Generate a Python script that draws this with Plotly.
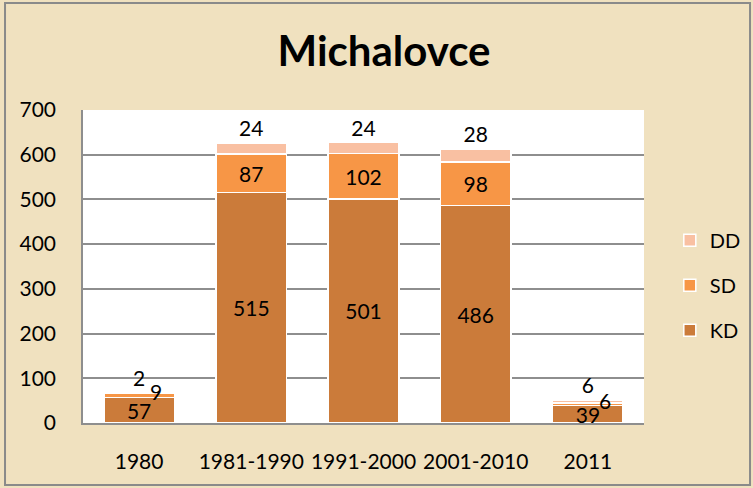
import plotly.graph_objects as go

categories = ["1980", "1981-1990", "1991-2000", "2001-2010", "2011"]
kd = [57, 515, 501, 486, 39]
sd = [9, 87, 102, 98, 6]
dd = [2, 24, 24, 28, 6]
y_ticks = [0, 100, 200, 300, 400, 500, 600, 700]

FONT = "Lato"
BG = "#F0E1BF"
C_KD = "#CB7B3A"
C_SD = "#F79646"
C_DD = "#F9C0A2"
SMALL = 20  # segments below this get a shifted label

fig = go.Figure()

fig.add_trace(go.Bar(
    name="KD", x=categories, y=kd, marker=dict(color=C_KD, line=dict(color="white", width=1.5)),
    text=[str(v) for v in kd], textposition="inside", insidetextanchor="middle", textangle=0,
    constraintext="none",
    textfont=dict(family=FONT, size=21, color="black"), legendrank=3, legendgroup="KD",
))
fig.add_trace(go.Bar(
    name="SD", x=categories, y=sd, marker=dict(color=C_SD, line=dict(color="white", width=1.5)),
    text=[str(v) if v >= SMALL else "" for v in sd], textposition="inside", insidetextanchor="middle",
    textangle=0, constraintext="none",
    textfont=dict(family=FONT, size=21, color="black"), legendrank=2, legendgroup="SD",
))
fig.add_trace(go.Bar(
    name="DD", x=categories, y=dd, marker=dict(color=C_DD, line=dict(color="white", width=1.5)),
    text=[str(v) for v in dd], textposition="outside", textangle=0,
    textfont=dict(family=FONT, size=21, color="black"), legendrank=1, legendgroup="DD",
))

# labels for small SD segments, placed beside the segment as in the original
# (x given as the category index so numeric-looking names are not read as positions)
for i, (k, s) in enumerate(zip(kd, sd)):
    if s < SMALL:
        fig.add_annotation(x=i, y=k + s / 2, text=str(s), showarrow=False,
                           xshift=17, yshift=4,
                           font=dict(family=FONT, size=21, color="black"))

# outer frame
fig.add_shape(type="rect", xref="paper", yref="paper", x0=-0.139, x1=1.189, y0=-0.198, y1=1.342,
              line=dict(color="#8A8A8A", width=2), fillcolor="rgba(0,0,0,0)", layer="below")

fig.update_layout(
    width=753, height=488,
    margin=dict(l=83, r=109, t=110, b=65, autoexpand=False),
    barmode="stack", bargap=0.37,
    uniformtext=dict(minsize=21, mode="show"),
    paper_bgcolor=BG, plot_bgcolor="white",
    font=dict(family=FONT, size=21, color="black"),
    title=dict(text="<b>Michalovce</b>", x=0.51, xanchor="center", y=0.895, yanchor="middle",
               yref="container", font=dict(family=FONT, size=42, color="black")),
    legend=dict(x=1.046, xanchor="left", y=0.44, yanchor="middle", traceorder="grouped",
                tracegroupgap=16, bgcolor="rgba(0,0,0,0)",
                font=dict(family=FONT, size=20)),
    showlegend=True,
)
fig.update_yaxes(range=[0, 700], tickvals=y_ticks, showgrid=True, gridcolor="#8E8E8E", gridwidth=1.5,
                 showline=True, linecolor="#8E8E8E", linewidth=1.5,
                 ticks="outside", ticklen=21, tickcolor="rgba(0,0,0,0)",
                 zeroline=False, automargin=False, tickfont=dict(family=FONT, size=21))
fig.update_xaxes(type="category", categoryorder="array", categoryarray=categories,
                 range=[-0.5, len(categories) - 0.5], showline=True, linecolor="#8E8E8E", linewidth=1.5,
                 ticks="outside", ticklen=19, tickcolor="rgba(0,0,0,0)",
                 automargin=False, tickfont=dict(family=FONT, size=21))

fig.write_html("out.html", config={"displayModeBar": False},
               post_script="document.body.style.margin='0';document.body.style.background='%s';" % BG)
